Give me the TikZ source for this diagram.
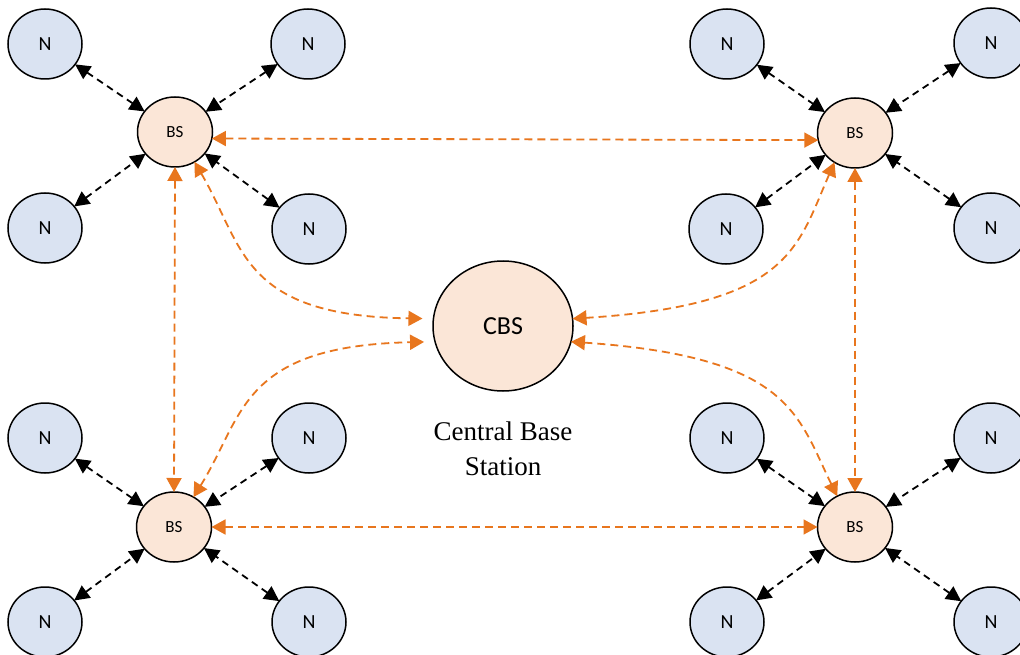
\documentclass[tikz,border=0pt]{standalone}
\usepackage{fontspec}
\setmainfont{Liberation Serif}
\newfontfamily\labelfont{Carlito}
\usetikzlibrary{arrows.meta,shapes.geometric}
\definecolor{nodeblue}{RGB}{218,227,242}
\definecolor{bsfill}{RGB}{251,230,215}
\definecolor{linkorange}{RGB}{232,118,30}

\begin{document}
\begin{tikzpicture}[x=1pt,y=-1pt,
  every node/.style={inner sep=0pt, outer sep=0pt},
  term/.style={ellipse, draw=black, line width=1.5pt, fill=nodeblue,
    minimum width=74pt, minimum height=70pt,
    font=\labelfont\fontsize{20}{24}\selectfont},
  basest/.style={ellipse, draw=black, line width=1.5pt, fill=bsfill,
    minimum width=75pt, minimum height=70pt,
    font=\labelfont\fontsize{17}{20}\selectfont},
  central/.style={ellipse, draw=black, line width=1.5pt, fill=bsfill,
    minimum width=140pt, minimum height=130pt,
    font=\labelfont\fontsize{26}{30}\selectfont},
  nlink/.style={draw=black, line width=1.8pt, dash pattern=on 7pt off 5pt,
    {Triangle[length=15pt,width=15pt]}-{Triangle[length=15pt,width=15pt]}},
  olink/.style={draw=linkorange, line width=1.8pt, dash pattern=on 8pt off 5pt,
    {Triangle[length=14pt,width=15pt]}-{Triangle[length=14pt,width=15pt]}}
]
\clip (0,0) rectangle (1020,655);
\fill[white] (0,0) rectangle (1020,655);

% base stations and the central one
\node[basest] (bs1) at (175,132) {BS};
\node[basest] (bs2) at (855,133) {BS};
\node[basest] (bs3) at (174,527) {BS};
\node[basest] (bs4) at (855,527) {BS};
\node[central] (cbs) at (503,326) {CBS};
\node[align=center, font=\fontsize{27}{35}\selectfont] (caption) at (503,449) {Central Base\\Station};

% terminals around each base station
\node[term] (a1) at (45,44) {N};
\node[term] (a2) at (308,44) {N};
\node[term] (a3) at (45,228) {N};
\node[term] (a4) at (309,229) {N};

\node[term] (b1) at (727,44) {N};
\node[term] (b2) at (991,43) {N};
\node[term] (b3) at (726,229) {N};
\node[term] (b4) at (991,228) {N};

\node[term] (c1) at (45,438) {N};
\node[term] (c2) at (309,438) {N};
\node[term] (c3) at (45,622) {N};
\node[term] (c4) at (309,622) {N};

\node[term] (d1) at (727,438) {N};
\node[term] (d2) at (991,438) {N};
\node[term] (d3) at (727,622) {N};
\node[term] (d4) at (991,622) {N};

% terminal links
\foreach \n in {a1,a2,a3,a4} \draw[nlink] (\n) -- (bs1);
\foreach \n in {b1,b2,b3,b4} \draw[nlink] (\n) -- (bs2);
\foreach \n in {c1,c2,c3,c4} \draw[nlink] (\n) -- (bs3);
\foreach \n in {d1,d2,d3,d4} \draw[nlink] (\n) -- (bs4);

% backbone between base stations
\draw[olink] (bs1.-10) -- (bs2.191);
\draw[olink] (bs3.east) -- (bs4.west);
\draw[olink] (bs1.south) -- (bs3.north);
\draw[olink] (bs2.south) -- (bs4.north);

% links to the central base station
\draw[olink, shorten >=11pt] (bs1.-57) .. controls (244,246) and (240,316) .. (cbs.174);
\draw[olink, shorten >=11pt] (bs3.57) .. controls (244,416) and (240,346) .. (cbs.193);
\draw[olink] (bs2.-125) .. controls (797,248) and (790,305) .. (cbs.6);
\draw[olink] (bs4.120) .. controls (797,414) and (790,357) .. (cbs.-13);
\end{tikzpicture}
\end{document}
